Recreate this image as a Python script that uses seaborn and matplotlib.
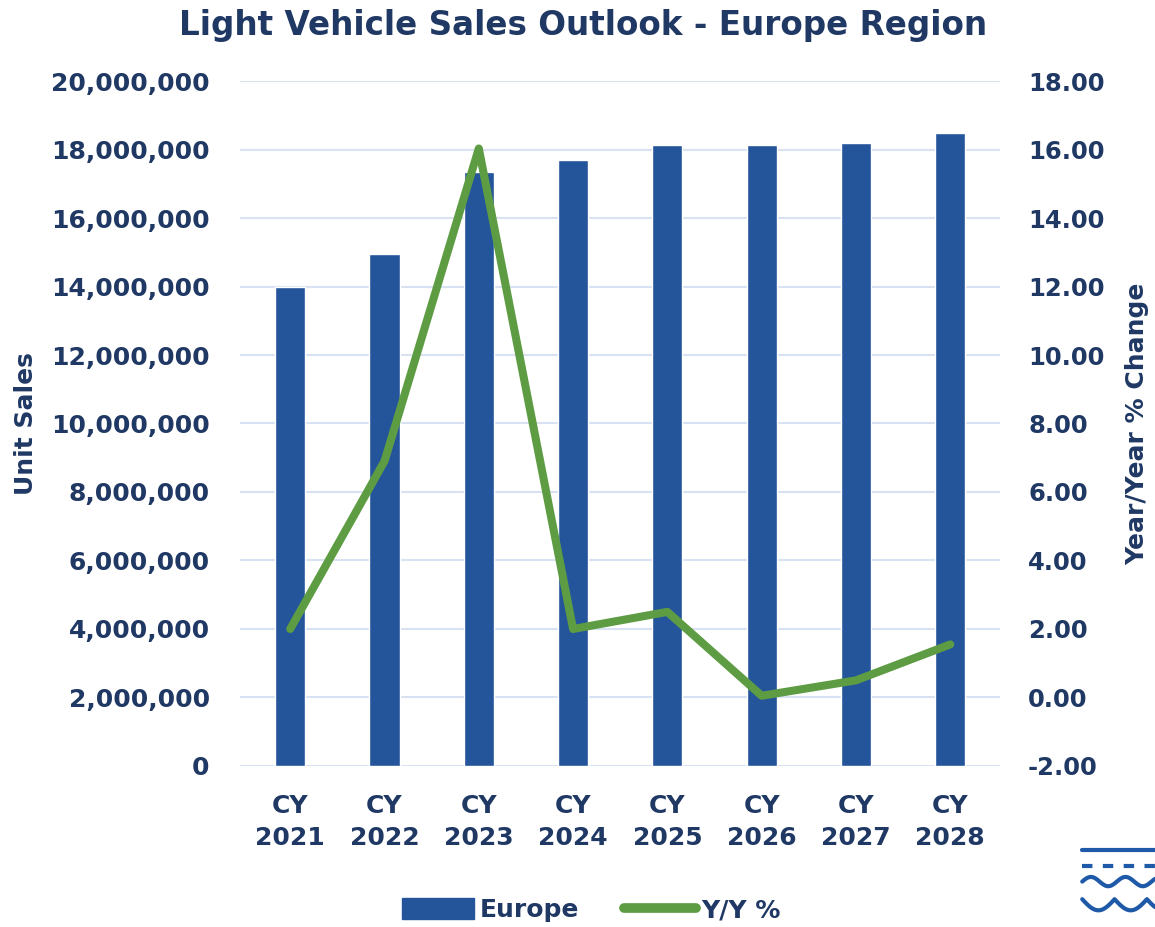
import numpy as np
import pandas as pd
import matplotlib
matplotlib.use("Agg")
import matplotlib.pyplot as plt
from matplotlib.ticker import FuncFormatter, MultipleLocator
from matplotlib.lines import Line2D
from matplotlib.patches import Patch
import seaborn as sns

categories = ["CY\n2021", "CY\n2022", "CY\n2023", "CY\n2024", "CY\n2025", "CY\n2026", "CY\n2027", "CY\n2028"]
europe_sales = [14000000, 14950000, 17330000, 17680000, 18120000, 18120000, 18200000, 18480000]
yy_change = [2.0, 6.9, 16.03, 2.0, 2.5, 0.05, 0.5, 1.55]

TEXT = "#1F3864"
BAR = "#24549A"
GREEN = "#5E9C44"
GRID = "#D9E2F3"

sns.set_theme(style="white")
plt.rcParams["font.family"] = ["DejaVu Sans"]
plt.rcParams["font.weight"] = "bold"

df = pd.DataFrame({"cat": categories, "sales": europe_sales, "yy": yy_change})
df["pos"] = np.arange(len(df))

fig = plt.figure(figsize=(11.55, 9.27), dpi=100)
ax = fig.add_axes([0.208, 0.1737, 0.658, 0.7389])

sns.barplot(data=df, x="cat", y="sales", color=BAR, width=0.32, saturation=1, ax=ax, zorder=2)
ax.set_xlim(-0.53, 7.53)
ax.set_ylim(0, 20000000)
ax.yaxis.set_major_locator(MultipleLocator(2000000))
ax.yaxis.set_major_formatter(FuncFormatter(lambda v, p: f"{v:,.0f}"))
ax.grid(axis="y", color=GRID, linewidth=1.5, zorder=0)
ax.set_axisbelow(True)
for s in ax.spines.values():
    s.set_visible(False)
ax.set_xlabel("")
ax.set_ylabel("Unit Sales", fontsize=18, color=TEXT, fontweight="bold")
ax.yaxis.set_label_coords(-0.266, 0.5)
ax.tick_params(axis="y", labelsize=18, labelcolor=TEXT, length=0, pad=22)
ax.tick_params(axis="x", labelsize=18, labelcolor=TEXT, length=0, pad=20)
for t in ax.get_xticklabels() + ax.get_yticklabels():
    t.set_fontweight("bold")
    t.set_linespacing(1.45)

ax2 = ax.twinx()
sns.lineplot(data=df, x="pos", y="yy", color=GREEN, linewidth=5.8, ax=ax2,
             solid_capstyle="round", solid_joinstyle="round", zorder=3)
ax2.set_ylim(-2, 18)
ax2.yaxis.set_major_locator(MultipleLocator(2))
ax2.yaxis.set_major_formatter(FuncFormatter(lambda v, p: f"{v:.2f}"))
ax2.set_xlim(-0.53, 7.53)
for s in ax2.spines.values():
    s.set_visible(False)
ax2.set_ylabel("Year/Year % Change", fontsize=18, color=TEXT, fontweight="bold")
ax2.yaxis.set_label_coords(1.164, 0.5)
ax2.tick_params(axis="y", labelsize=17.5, labelcolor=TEXT, length=0, pad=20)
for t in ax2.get_yticklabels():
    t.set_fontweight("bold")
ax2.grid(False)

fig.suptitle("Light Vehicle Sales Outlook - Europe Region", x=0.505, y=0.99,
             fontsize=23.5, color=TEXT, fontweight="bold")

handles = [Patch(facecolor=BAR, edgecolor=BAR), Line2D([0], [0], color=GREEN, linewidth=7, solid_capstyle="round")]
leg = fig.legend(handles, ["Europe", "Y/Y %"], loc="center", bbox_to_anchor=(0.512, 0.018),
                 ncol=2, frameon=False, fontsize=18, handlelength=2.9, handleheight=0.9,
                 columnspacing=1.8, handletextpad=0.2)
for t in leg.get_texts():
    t.set_color(TEXT)
    t.set_fontweight("bold")

# logo (decorative)
LOGO = "#1F5AA8"
fig.add_artist(Line2D([0.937, 1.0], [0.083, 0.083], color=LOGO, linewidth=3, transform=fig.transFigure))
fig.add_artist(Line2D([0.937, 1.0], [0.066, 0.066], color=LOGO, linewidth=3,
                      linestyle=(0, (2.5, 2.5)), transform=fig.transFigure))
xs = np.linspace(0.937, 1.0, 100)
fig.add_artist(Line2D(xs, 0.049 + 0.005 * np.sin((xs - 0.937) * 2 * np.pi / 0.03), color=LOGO,
                      linewidth=3, transform=fig.transFigure))
fig.add_artist(Line2D(xs, 0.018 + 0.012 * (1 - np.abs(np.sin((xs - 0.937) * np.pi / 0.028))), color=LOGO,
                      linewidth=3, transform=fig.transFigure))

fig.savefig("out.png", dpi=100)
